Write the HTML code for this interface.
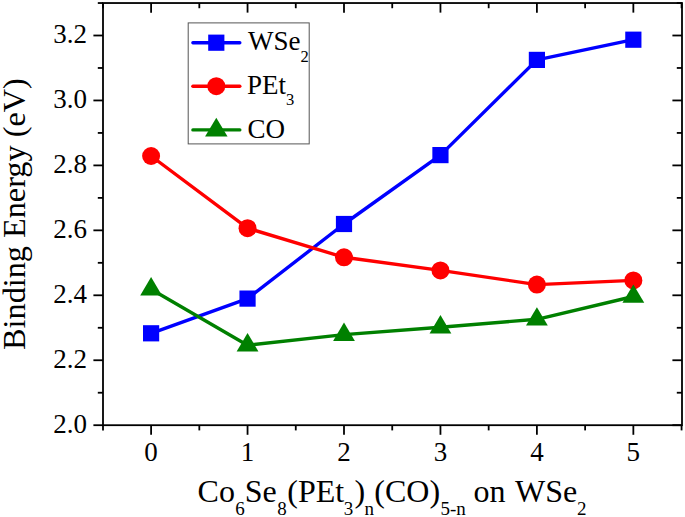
<!DOCTYPE html>
<html><head><meta charset="utf-8"><title>chart</title>
<style>
html,body{margin:0;padding:0;background:#fff;}
body{width:685px;height:517px;overflow:hidden;}
svg{display:block;}
text{font-family:"Liberation Serif",serif;fill:#000;}
</style></head><body>
<svg width="685" height="517" viewBox="0 0 685 517">
<rect x="0" y="0" width="685" height="517" fill="#fff"/>

<g stroke="#000" stroke-width="1.8" fill="none" stroke-linecap="butt">
<rect x="103.00" y="3.03" width="579.00" height="422.17"/>
<line x1="103.00" y1="425.20" x2="103.00" y2="430.40"/>
<line x1="103.00" y1="3.03" x2="103.00" y2="8.23"/>
<line x1="151.10" y1="425.20" x2="151.10" y2="434.80"/>
<line x1="151.10" y1="3.03" x2="151.10" y2="12.63"/>
<line x1="199.32" y1="425.20" x2="199.32" y2="430.40"/>
<line x1="199.32" y1="3.03" x2="199.32" y2="8.23"/>
<line x1="247.55" y1="425.20" x2="247.55" y2="434.80"/>
<line x1="247.55" y1="3.03" x2="247.55" y2="12.63"/>
<line x1="295.77" y1="425.20" x2="295.77" y2="430.40"/>
<line x1="295.77" y1="3.03" x2="295.77" y2="8.23"/>
<line x1="344.00" y1="425.20" x2="344.00" y2="434.80"/>
<line x1="344.00" y1="3.03" x2="344.00" y2="12.63"/>
<line x1="392.23" y1="425.20" x2="392.23" y2="430.40"/>
<line x1="392.23" y1="3.03" x2="392.23" y2="8.23"/>
<line x1="440.45" y1="425.20" x2="440.45" y2="434.80"/>
<line x1="440.45" y1="3.03" x2="440.45" y2="12.63"/>
<line x1="488.67" y1="425.20" x2="488.67" y2="430.40"/>
<line x1="488.67" y1="3.03" x2="488.67" y2="8.23"/>
<line x1="536.90" y1="425.20" x2="536.90" y2="434.80"/>
<line x1="536.90" y1="3.03" x2="536.90" y2="12.63"/>
<line x1="585.12" y1="425.20" x2="585.12" y2="430.40"/>
<line x1="585.12" y1="3.03" x2="585.12" y2="8.23"/>
<line x1="633.35" y1="425.20" x2="633.35" y2="434.80"/>
<line x1="633.35" y1="3.03" x2="633.35" y2="12.63"/>
<line x1="681.58" y1="425.20" x2="681.58" y2="430.40"/>
<line x1="681.58" y1="3.03" x2="681.58" y2="8.23"/>
<line x1="103.00" y1="425.20" x2="93.40" y2="425.20"/>
<line x1="682.00" y1="425.20" x2="672.40" y2="425.20"/>
<line x1="103.00" y1="392.72" x2="97.80" y2="392.72"/>
<line x1="682.00" y1="392.72" x2="676.80" y2="392.72"/>
<line x1="103.00" y1="360.25" x2="93.40" y2="360.25"/>
<line x1="682.00" y1="360.25" x2="672.40" y2="360.25"/>
<line x1="103.00" y1="327.78" x2="97.80" y2="327.78"/>
<line x1="682.00" y1="327.78" x2="676.80" y2="327.78"/>
<line x1="103.00" y1="295.30" x2="93.40" y2="295.30"/>
<line x1="682.00" y1="295.30" x2="672.40" y2="295.30"/>
<line x1="103.00" y1="262.82" x2="97.80" y2="262.82"/>
<line x1="682.00" y1="262.82" x2="676.80" y2="262.82"/>
<line x1="103.00" y1="230.35" x2="93.40" y2="230.35"/>
<line x1="682.00" y1="230.35" x2="672.40" y2="230.35"/>
<line x1="103.00" y1="197.87" x2="97.80" y2="197.87"/>
<line x1="682.00" y1="197.87" x2="676.80" y2="197.87"/>
<line x1="103.00" y1="165.40" x2="93.40" y2="165.40"/>
<line x1="682.00" y1="165.40" x2="672.40" y2="165.40"/>
<line x1="103.00" y1="132.93" x2="97.80" y2="132.93"/>
<line x1="682.00" y1="132.93" x2="676.80" y2="132.93"/>
<line x1="103.00" y1="100.45" x2="93.40" y2="100.45"/>
<line x1="682.00" y1="100.45" x2="672.40" y2="100.45"/>
<line x1="103.00" y1="67.97" x2="97.80" y2="67.97"/>
<line x1="682.00" y1="67.97" x2="676.80" y2="67.97"/>
<line x1="103.00" y1="35.50" x2="93.40" y2="35.50"/>
<line x1="682.00" y1="35.50" x2="672.40" y2="35.50"/>
<line x1="103.00" y1="3.03" x2="97.80" y2="3.03"/>
<line x1="682.00" y1="3.03" x2="676.80" y2="3.03"/>
</g>
<text x="87.0" y="433.00" font-size="27" text-anchor="end">2.0</text>
<text x="87.0" y="368.05" font-size="27" text-anchor="end">2.2</text>
<text x="87.0" y="303.10" font-size="27" text-anchor="end">2.4</text>
<text x="87.0" y="238.15" font-size="27" text-anchor="end">2.6</text>
<text x="87.0" y="173.20" font-size="27" text-anchor="end">2.8</text>
<text x="87.0" y="108.25" font-size="27" text-anchor="end">3.0</text>
<text x="87.0" y="43.30" font-size="27" text-anchor="end">3.2</text>
<text x="151.10" y="461.0" font-size="27" text-anchor="middle">0</text>
<text x="247.55" y="461.0" font-size="27" text-anchor="middle">1</text>
<text x="344.00" y="461.0" font-size="27" text-anchor="middle">2</text>
<text x="440.45" y="461.0" font-size="27" text-anchor="middle">3</text>
<text x="536.90" y="461.0" font-size="27" text-anchor="middle">4</text>
<text x="633.35" y="461.0" font-size="27" text-anchor="middle">5</text>
<polyline points="151.10,333.30 247.55,298.60 344.00,224.00 440.45,155.10 536.90,59.90 633.35,39.70" fill="none" stroke="#0000ff" stroke-width="3.4" stroke-linejoin="round"/>
<rect x="143.00" y="325.20" width="16.2" height="16.2" fill="#0000ff"/>
<rect x="239.45" y="290.50" width="16.2" height="16.2" fill="#0000ff"/>
<rect x="335.90" y="215.90" width="16.2" height="16.2" fill="#0000ff"/>
<rect x="432.35" y="147.00" width="16.2" height="16.2" fill="#0000ff"/>
<rect x="528.80" y="51.80" width="16.2" height="16.2" fill="#0000ff"/>
<rect x="625.25" y="31.60" width="16.2" height="16.2" fill="#0000ff"/>
<polyline points="151.10,156.00 247.55,228.20 344.00,257.30 440.45,270.40 536.90,284.60 633.35,280.40" fill="none" stroke="#ff0000" stroke-width="3.4" stroke-linejoin="round"/>
<circle cx="151.10" cy="156.00" r="9" fill="#ff0000"/>
<circle cx="247.55" cy="228.20" r="9" fill="#ff0000"/>
<circle cx="344.00" cy="257.30" r="9" fill="#ff0000"/>
<circle cx="440.45" cy="270.40" r="9" fill="#ff0000"/>
<circle cx="536.90" cy="284.60" r="9" fill="#ff0000"/>
<circle cx="633.35" cy="280.40" r="9" fill="#ff0000"/>
<polyline points="151.10,289.20 247.55,345.20 344.00,334.60 440.45,327.20 536.90,319.30 633.35,296.50" fill="none" stroke="#008000" stroke-width="3.4" stroke-linejoin="round"/>
<polygon points="151.10,277.10 140.20,295.50 162.00,295.50" fill="#008000"/>
<polygon points="247.55,333.10 236.65,351.50 258.45,351.50" fill="#008000"/>
<polygon points="344.00,322.50 333.10,340.90 354.90,340.90" fill="#008000"/>
<polygon points="440.45,315.10 429.55,333.50 451.35,333.50" fill="#008000"/>
<polygon points="536.90,307.20 526.00,325.60 547.80,325.60" fill="#008000"/>
<polygon points="633.35,284.40 622.45,302.80 644.25,302.80" fill="#008000"/>
<rect x="188.2" y="22.9" width="121" height="121" fill="#fff" stroke="#555" stroke-width="1"/>
<line x1="192.9" y1="42.7" x2="239.8" y2="42.7" stroke="#0000ff" stroke-width="3.4" stroke-linecap="round"/>
<rect x="208.2" y="34.6" width="16.2" height="16.2" fill="#0000ff"/>
<line x1="192.9" y1="86.2" x2="239.8" y2="86.2" stroke="#ff0000" stroke-width="3.4" stroke-linecap="round"/>
<circle cx="216.3" cy="86.2" r="9" fill="#ff0000"/>
<line x1="192.9" y1="129.9" x2="239.8" y2="129.9" stroke="#008000" stroke-width="3.4" stroke-linecap="round"/>
<polygon points="216.30,117.80 205.05,136.60 227.55,136.60" fill="#008000"/>
<text x="248.1" y="49.9" font-size="27">WSe<tspan font-size="16.5" dy="11.6">2</tspan></text>
<text x="247.1" y="93.8" font-size="27">PEt<tspan font-size="16.5" dy="11.6">3</tspan></text>
<text x="247.4" y="137.5" font-size="27">CO</text>
<text transform="translate(24.7,214.1) rotate(-90)" font-size="32.25" text-anchor="middle">Binding Energy (eV)</text>
<text x="197.6" y="502.1" font-size="32">Co<tspan font-size="19" dy="12.8" dx="0.4">6</tspan><tspan dy="-12.8" dx="-0.1">Se</tspan><tspan font-size="19" dy="12.8" dx="0.5">8</tspan><tspan dy="-12.8" dx="0.5">(PEt</tspan><tspan font-size="19" dy="12.8" dx="-0.3">3</tspan><tspan dy="-12.8" dx="1.1">)</tspan><tspan font-size="19" dy="12.8" dx="-0.6">n</tspan><tspan dy="-12.8" dx="0.3">(CO)</tspan><tspan font-size="19" dy="12.8" dx="0.4">5-n</tspan><tspan dy="-12.8" dx="-0.4"> on</tspan><tspan dx="2.2"> WSe</tspan><tspan font-size="19" dy="12.8" dx="-0.1">2</tspan></text>
</svg></body></html>
